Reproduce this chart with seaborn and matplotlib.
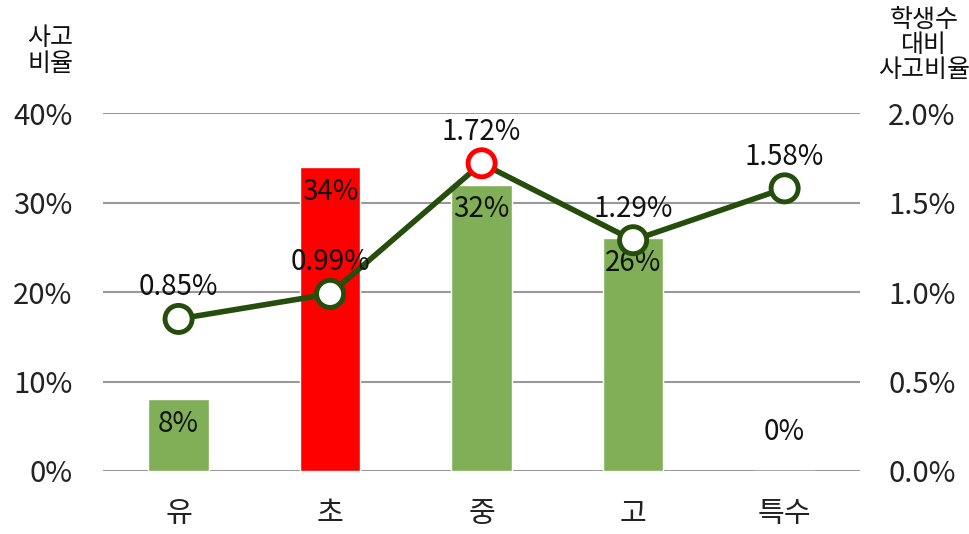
import seaborn as sns
import matplotlib.pyplot as plt
import pandas as pd
from matplotlib.ticker import FuncFormatter

# school levels, accident share (bars) and accident rate per student (line)
levels = ['유', '초', '중', '고', '특수']
accident_share = [8, 34, 32, 26, 0]
accident_rate = [0.85, 0.99, 1.72, 1.29, 1.58]
bar_colors = ['#80AF57', '#FF0000', '#80AF57', '#80AF57', '#80AF57']
marker_edges = ['#254D0C', '#254D0C', '#FF0000', '#254D0C', '#254D0C']

df = pd.DataFrame({'level': levels, 'share': accident_share, 'rate': accident_rate})

sns.set_style('white')
plt.rcParams['font.family'] = ['Noto Sans CJK KR', 'DejaVu Sans']
plt.rcParams['font.weight'] = 'light'

fig = plt.figure(figsize=(9.7, 5.34), dpi=100)
ax = fig.add_axes([0.106, 0.118, 0.781, 0.670])

sns.barplot(data=df, x='level', y='share', hue='level', palette=bar_colors,
            legend=False, width=0.4, saturation=1, ax=ax)
ax.set_ylim(0, 40)
ax.set_xlim(-0.5, 4.5)
ax.set_yticks([0, 10, 20, 30, 40])
ax.yaxis.set_major_formatter(FuncFormatter(lambda v, p: f'{v:.0f}%'))
ax.grid(axis='y', color='#999999', linewidth=1.5)
ax.set_axisbelow(True)
ax.set_xlabel('')
ax.set_ylabel('')
ax.tick_params(axis='y', length=0, pad=22, labelsize=21, labelcolor='#222222')
ax.tick_params(axis='x', length=0, pad=20, labelsize=21, labelcolor='#222222')
for s in ax.spines.values():
    s.set_visible(False)

for i, v in enumerate(accident_share):
    if v > 0:
        ax.annotate(f'{v}%', (i, v), xytext=(0, -7), textcoords='offset points',
                    ha='center', va='top', fontsize=20, color='#111111')
    else:
        ax.annotate(f'{v}%', (i, v), xytext=(0, 17), textcoords='offset points',
                    ha='center', va='bottom', fontsize=20, color='#111111')

ax2 = ax.twinx()
ax2.plot(range(len(levels)), accident_rate, color='#254D0C', linewidth=4, zorder=3)
ax2.scatter(range(len(levels)), accident_rate, s=380, facecolor='white',
            edgecolor=marker_edges, linewidth=3.5, zorder=4)
ax2.set_ylim(0, 2.0)
ax2.set_yticks([0, 0.5, 1.0, 1.5, 2.0])
ax2.yaxis.set_major_formatter(FuncFormatter(lambda v, p: f'{v:.1f}%'))
ax2.tick_params(axis='y', length=0, pad=20, labelsize=21, labelcolor='#222222')
for s in ax2.spines.values():
    s.set_visible(False)

for i, v in enumerate(accident_rate):
    ax2.annotate(f'{v:.2f}%', (i, v), xytext=(0, 12), textcoords='offset points',
                 ha='center', va='bottom', fontsize=20, color='#111111')

fig.text(0.052, 0.905, '사고\n비율', ha='center', va='center', fontsize=18,
         linespacing=1.0, color='#111111')
fig.text(0.953, 0.915, '학생수\n대비\n사고비율', ha='center', va='center', fontsize=18,
         linespacing=0.95, color='#111111')

fig.savefig('out.png', dpi=100)
plt.close(fig)
